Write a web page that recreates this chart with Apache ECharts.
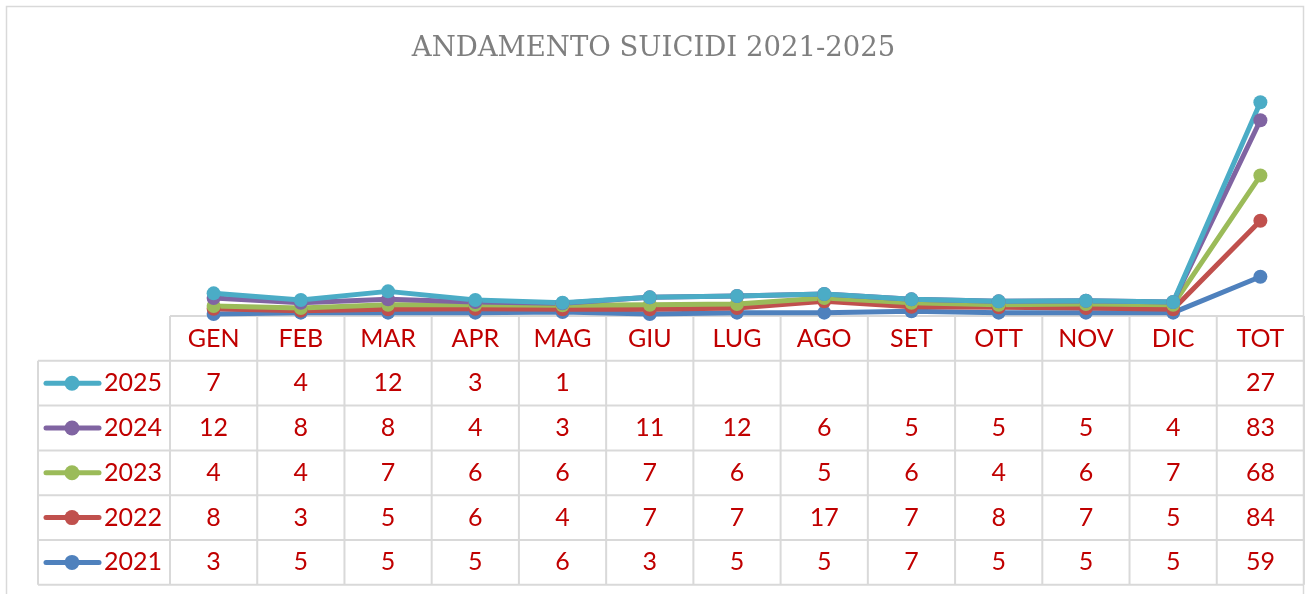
<!DOCTYPE html>
<html>
<head>
<meta charset="utf-8">
<script src="https://cdn.jsdelivr.net/npm/echarts@6/dist/echarts.min.js"></script>
<style>
  html, body { margin: 0; padding: 0; background: #fff; }
  #chart { width: 1307px; height: 594px; }
</style>
</head>
<body>
<div id="chart"></div>
<script>
// categorie (mesi + totale)
const mesi = ['GEN', 'FEB', 'MAR', 'APR', 'MAG', 'GIU', 'LUG', 'AGO', 'SET', 'OTT', 'NOV', 'DIC', 'TOT'];
// valori per anno, null = cella vuota nella tabella
const anni = ['2021', '2022', '2023', '2024', '2025'];
const v2021 = [3, 5, 5, 5, 6, 3, 5, 5, 7, 5, 5, 5, 59];
const v2022 = [8, 3, 5, 6, 4, 7, 7, 17, 7, 8, 7, 5, 84];
const v2023 = [4, 4, 7, 6, 6, 7, 6, 5, 6, 4, 6, 7, 68];
const v2024 = [12, 8, 8, 4, 3, 11, 12, 6, 5, 5, 5, 4, 83];
const v2025 = [7, 4, 12, 3, 1, null, null, null, null, null, null, null, 27];
const valori = [v2021, v2022, v2023, v2024, v2025];
const colori = ['#4F81BD', '#C0504D', '#9BBB59', '#8064A2', '#4BACC6'];

const RED = '#C00000';
const GRIDC = '#d9d9d9';
const FONT = 'Lato';

var myChart = echarts.init(document.getElementById('chart'));

// grafico a linee in pila (come Excel: vuoto = 0)
myChart.setOption({
  animation: false,
  title: {
    text: 'ANDAMENTO SUICIDI 2021-2025',
    left: 'center',
    top: 30,
    textStyle: { fontFamily: 'DejaVu Serif', fontWeight: 'normal', fontSize: 27.5, color: '#7f7f7f' }
  },
  grid: { left: 170, right: 3, top: 83, bottom: 278 },
  xAxis: {
    type: 'category',
    data: mesi,
    boundaryGap: true,
    axisLine: { show: false },
    axisTick: { show: false },
    axisLabel: { show: false }
  },
  yAxis: {
    type: 'value',
    min: 0,
    max: 350,
    show: false,
    splitLine: { show: false }
  },
  series: anni.map((a, i) => ({
    name: a,
    type: 'line',
    stack: 'tot',
    data: valori[i].map(v => v == null ? 0 : v),
    symbol: 'circle',
    symbolSize: 14,
    color: colori[i],
    lineStyle: { width: 5, color: colori[i], cap: 'round', join: 'round' },
    itemStyle: { color: colori[i] }
  }))
});

// tabella dati sotto il grafico
const top0 = 316, rowH = 44.8, legL = 38, tabL = 170, tabR = 1304;
const colW = (tabR - tabL) / mesi.length;
const g = [];
// bordo esterno
g.push({ type: 'rect', shape: { x: 6.5, y: 6.5, width: 1297, height: 620 }, style: { fill: 'none', stroke: GRIDC, lineWidth: 1.5 }, silent: true });
const line = (x1, y1, x2, y2) => g.push({ type: 'line', shape: { x1, y1, x2, y2 }, style: { stroke: GRIDC, lineWidth: 2 }, silent: true });
const nRows = anni.length;
const bottom = top0 + rowH * (nRows + 1);
// orizzontali
line(tabL, top0, tabR, top0);
for (let r = 1; r <= nRows + 1; r++) line(legL, top0 + rowH * r, tabR, top0 + rowH * r);
// verticali
line(legL, top0 + rowH, legL, bottom);
for (let c = 0; c <= mesi.length; c++) line(tabL + colW * c, top0, tabL + colW * c, bottom);

const cx = mesi.map(m => myChart.convertToPixel({ xAxisIndex: 0 }, m));
// intestazione
mesi.forEach((m, c) => g.push({
  type: 'text', x: cx[c], y: top0 + rowH / 2 + 1,
  style: { text: m, fill: RED, font: '25px ' + FONT, align: 'center', verticalAlign: 'middle' }
}));
// righe: 2025 in alto, 2021 in basso
for (let k = 0; k < nRows; k++) {
  const i = nRows - 1 - k;
  const yc = top0 + rowH * (k + 1.5);
  g.push({ type: 'line', shape: { x1: 46, y1: yc, x2: 99, y2: yc }, style: { stroke: colori[i], lineWidth: 5, lineCap: 'round' } });
  g.push({ type: 'circle', shape: { cx: 72, cy: yc, r: 7.5 }, style: { fill: colori[i] } });
  g.push({ type: 'text', x: 104, y: yc, style: { text: anni[i], fill: RED, font: '25px ' + FONT, align: 'left', verticalAlign: 'middle' } });
  valori[i].forEach((v, c) => {
    if (v == null) return;
    g.push({ type: 'text', x: cx[c], y: yc, style: { text: String(v), fill: RED, font: '25px ' + FONT, align: 'center', verticalAlign: 'middle' } });
  });
}
myChart.setOption({ graphic: g });
</script>
</body>
</html>
